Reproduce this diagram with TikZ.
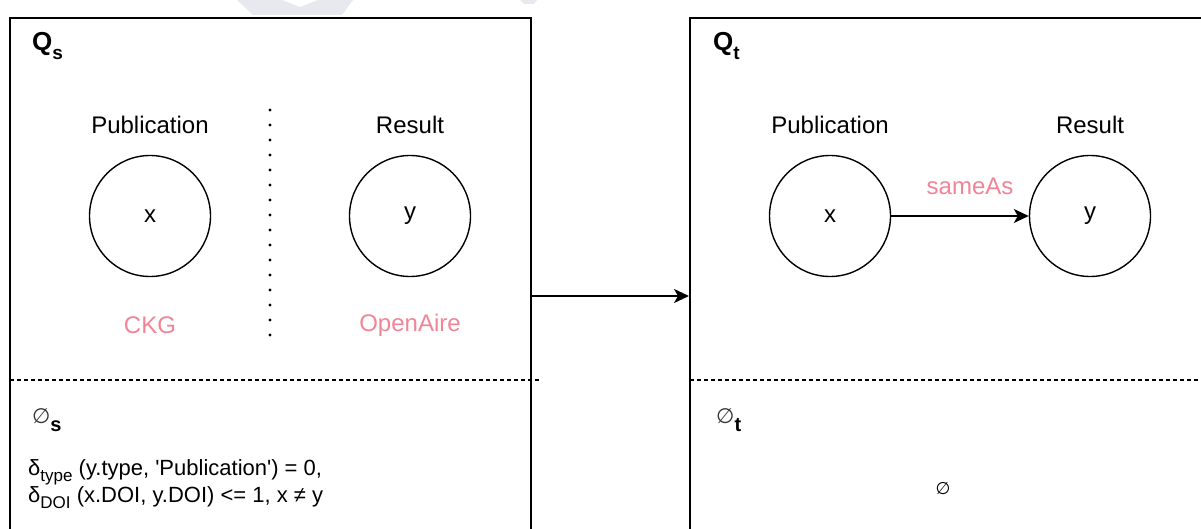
\documentclass[tikz,border=0pt]{standalone}
\usepackage{fontspec}
\setmainfont{Liberation Sans}
\newfontfamily\djv{DejaVu Sans}
\usetikzlibrary{arrows.meta}
\definecolor{pinkl}{RGB}{241,132,150}
\definecolor{wmark}{RGB}{232,233,239}
\begin{document}
\begin{tikzpicture}[x=1pt,y=-1pt,
  lbl/.style={inner sep=0, font=\fontsize{24}{28}\selectfont},
  src/.style={inner sep=0, text=pinkl, font=\fontsize{24}{28}\selectfont},
  ent/.style={draw, circle, line width=1.4pt, minimum size=121pt, inner sep=0, font=\fontsize{24}{28}\selectfont},
  frame/.style={line width=1.7pt},
  sepline/.style={line width=1.2pt, dash pattern=on 4pt off 3pt},
  dotline/.style={line width=3.2pt, line cap=round, dash pattern=on 0pt off 15pt},
  conn/.style={line width=1.5pt, -{Stealth[length=15pt,width=14pt,inset=4pt]}},
  txt/.style={inner sep=0, anchor=base west}]
\useasboundingbox (0,0) rectangle (1201,529);
% faint watermark
\fill[wmark] (237,0) -- (282,0) -- (300,7) -- (318,0) -- (353,0) -- (342,15) -- (253,15) -- cycle;
\fill[wmark] (520,0) -- (537,0) -- (534,4) -- (524,4) -- cycle;
% frames
\draw[frame] (10,530) -- (10,18) -- (531,18) -- (531,530);
\draw[frame] (690,530) -- (690,18) -- (1203,18);
\draw[sepline] (10,380) -- (540,380);
\draw[sepline] (690,380) -- (1201,380);
% left panel
\node[txt] (qs) at (32,51) {\fontsize{26}{30}\selectfont\bfseries Q\raisebox{-9pt}{\fontsize{19}{19}\selectfont s}};
\node[lbl] (pub1) at (150,125) {Publication};
\node[lbl] (res1) at (410,125) {Result};
\node[ent] (x1) at (150,216) {x};
\node[ent] (y1) at (410,216) {y};
\node[src] (ckg) at (150,325) {CKG};
\node[src] (oa) at (410,325) {OpenAire};
\coordinate (dtop) at (270,110);
\coordinate (dbot) at (270,336);
\draw[dotline] (dtop) -- (dbot);
\node[txt] (phis) at (32,423) {{\djv\fontsize{21}{21}\selectfont\color{black!80}∅}\raisebox{-8pt}{\fontsize{20}{20}\selectfont\bfseries s}};
\node[txt] (c1) at (28,475) {\fontsize{22}{26}\selectfont δ\raisebox{-6pt}{\fontsize{17}{17}\selectfont type} (y.type, \textquotesingle Publication\textquotesingle) = 0,};
\node[txt] (c2) at (28,502) {\fontsize{22}{26}\selectfont δ\raisebox{-6pt}{\fontsize{17}{17}\selectfont DOI} (x.DOI, y.DOI) <= 1, x ≠ y};
% right panel
\node[txt] (qt) at (713,51) {\fontsize{26}{30}\selectfont\bfseries Q\raisebox{-9pt}{\fontsize{19}{19}\selectfont t}};
\node[lbl] (pub2) at (830,125) {Publication};
\node[lbl] (res2) at (1090,125) {Result};
\node[ent] (x2) at (830,216) {x};
\node[ent] (y2) at (1090,216) {y};
\draw[conn] (x2) -- (y2);
\node[src] (same) at (970,186) {sameAs};
\node[txt] (phit) at (716,423) {{\djv\fontsize{21}{21}\selectfont\color{black!80}∅}\raisebox{-8pt}{\fontsize{20}{20}\selectfont\bfseries t}};
\node[inner sep=0, font=\djv\fontsize{17}{17}\selectfont] (empty) at (943,489) {∅};
% main arrow
\coordinate (lb) at (531,296);
\coordinate (rb) at (689,296);
\draw[conn] (lb) -- (rb);
\end{tikzpicture}
\end{document}
